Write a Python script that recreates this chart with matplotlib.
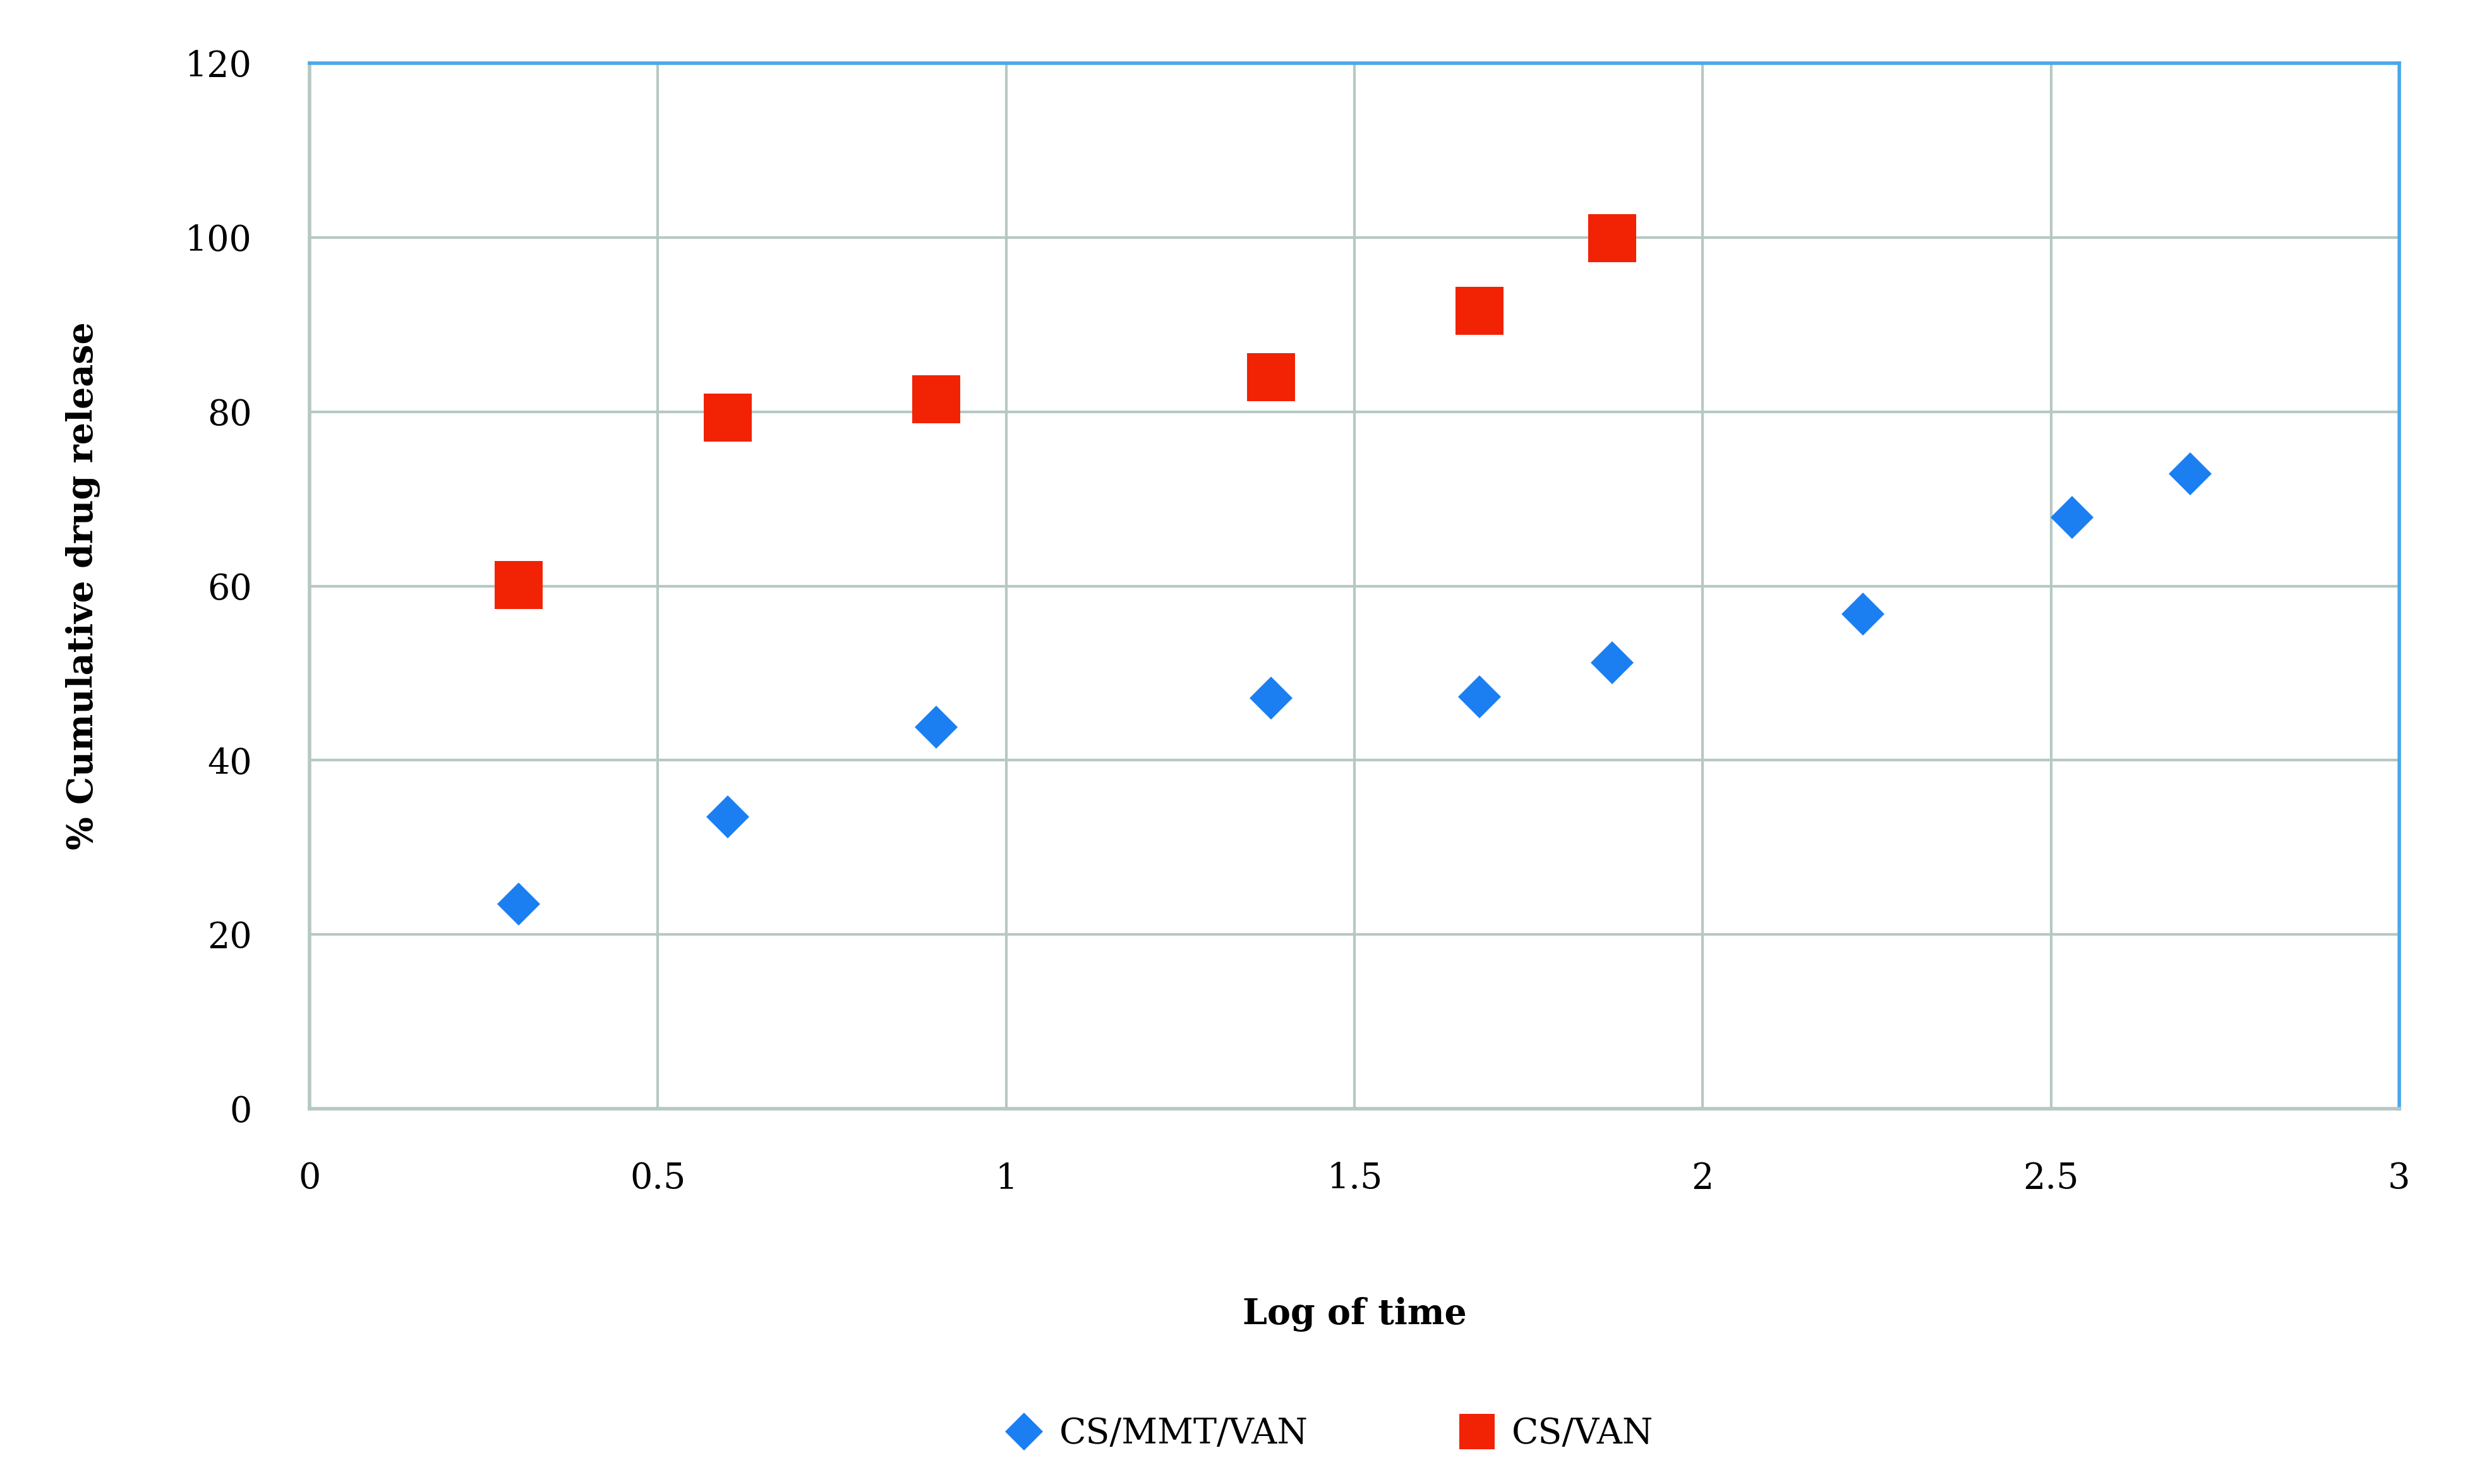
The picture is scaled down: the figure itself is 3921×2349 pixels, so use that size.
import matplotlib.pyplot as plt
from matplotlib.lines import Line2D

# log of time values and % cumulative release
log_time_mmt = [0.30, 0.60, 0.90, 1.38, 1.68, 1.87, 2.23, 2.53, 2.70]
release_mmt = [23.5, 33.5, 43.8, 47.1, 47.3, 51.2, 56.8, 67.9, 72.9]

log_time_van = [0.30, 0.60, 0.90, 1.38, 1.68, 1.87]
release_van = [60.1, 79.3, 81.4, 84.0, 91.6, 99.9]

xticks = [0, 0.5, 1, 1.5, 2, 2.5, 3]
xtick_labels = ['0', '0.5', '1', '1.5', '2', '2.5', '3']
yticks = [0, 20, 40, 60, 80, 100, 120]

azul = '#1b7ff2'
vermelho = '#f22205'
cinza = '#b6c8c4'
azul_borda = '#4aa8e8'

plt.rcParams['font.family'] = ['DejaVu Serif']

fig = plt.figure(figsize=(39.21, 23.49), dpi=100)
ax = fig.add_axes([0.125, 0.2529, 0.8436, 0.7045])

ax.plot(log_time_mmt, release_mmt, linestyle='none', marker='D', markersize=35,
        color=azul, markeredgewidth=0, zorder=3)
ax.plot(log_time_van, release_van, linestyle='none', marker='s', markersize=55,
        color=vermelho, markeredgewidth=0, zorder=3)

ax.set_xlim(0, 3)
ax.set_ylim(0, 120)
ax.set_xticks(xticks)
ax.set_xticklabels(xtick_labels)
ax.set_yticks(yticks)

ax.grid(True, color=cinza, linewidth=3)
ax.set_axisbelow(True)
ax.tick_params(axis='both', length=0, labelsize=40)
ax.tick_params(axis='x', pad=60)
ax.tick_params(axis='y', pad=66)

for lado in ['left', 'bottom']:
    ax.spines[lado].set_color(cinza)
    ax.spines[lado].set_linewidth(4)
for lado in ['top', 'right']:
    ax.spines[lado].set_color(azul_borda)
    ax.spines[lado].set_linewidth(4)

ax.set_xlabel('Log of time', fontsize=40, fontweight='bold', labelpad=115)
ax.set_ylabel('% Cumulative drug release', fontsize=40, fontweight='bold', labelpad=96)

handles = [
    Line2D([], [], linestyle='none', marker='D', markersize=31, color=azul,
           markeredgewidth=0, label='CS/MMT/VAN'),
    Line2D([], [], linestyle='none', marker='s', markersize=40, color=vermelho,
           markeredgewidth=0, label='CS/VAN'),
]
fig.legend(handles=handles, loc='center', bbox_to_anchor=(0.537, 1 - 2270 / 2349), ncol=2,
           frameon=False, fontsize=40, handlelength=1, handletextpad=0.5, columnspacing=4.3)

fig.savefig('out.png', dpi=100, facecolor='white')
